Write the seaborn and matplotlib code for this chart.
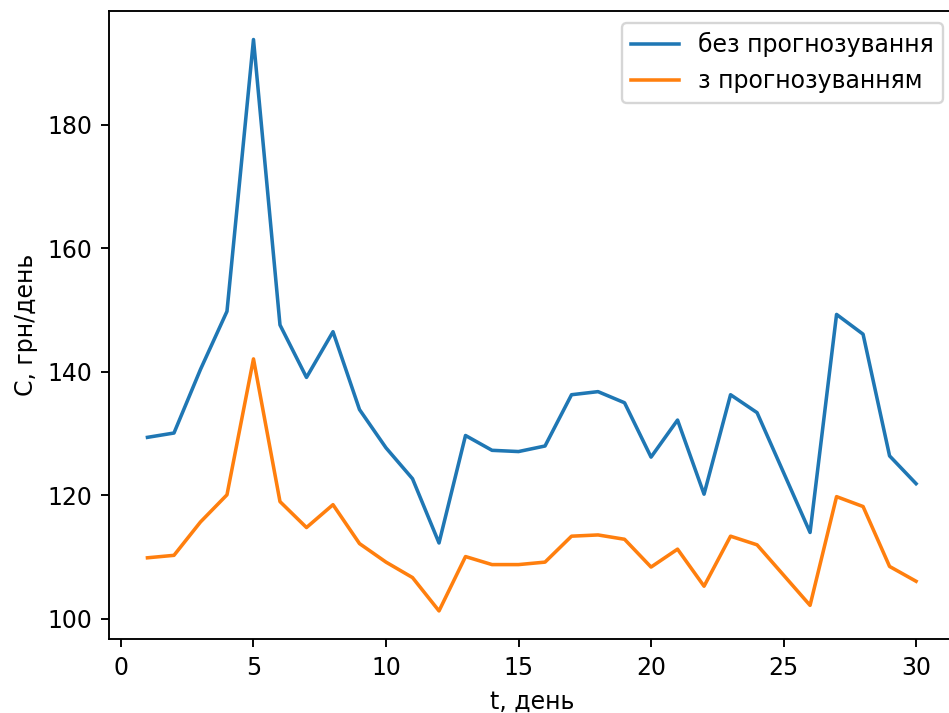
import numpy as np
import pandas as pd
import matplotlib
matplotlib.use("Agg")
import matplotlib.pyplot as plt
import seaborn as sns

days = list(range(1, 31))
cost_plain = [129.4, 130.1, 140.4, 149.8, 193.8, 147.6, 139.1, 146.5, 133.9, 127.7,
              122.7, 112.3, 129.7, 127.3, 127.1, 128.0, 136.3, 136.8, 135.0, 126.2,
              132.2, 120.2, 136.3, 133.4, 123.7, 114.0, 149.3, 146.1, 126.4, 121.9]
cost_forecast = [109.9, 110.3, 115.7, 120.1, 142.1, 119.0, 114.8, 118.5, 112.2, 109.2,
                 106.7, 101.3, 110.1, 108.8, 108.8, 109.2, 113.4, 113.6, 112.9, 108.4,
                 111.3, 105.3, 113.4, 112.0, 107.1, 102.2, 119.8, 118.2, 108.5, 106.1]
labels = ["без прогнозування", "з прогнозуванням"]

df = pd.DataFrame({
    "t": days * 2,
    "C": cost_plain + cost_forecast,
    "series": [labels[0]] * len(days) + [labels[1]] * len(days),
})

plt.rcParams["font.family"] = ["DejaVu Sans"]
dpi = 170
fig = plt.figure(figsize=(949 / dpi, 713 / dpi), dpi=dpi)
# the axes run slightly past the right edge of the canvas
ax = fig.add_axes([0.1149, 0.1031, 0.8909, 0.8815])

sns.lineplot(data=df, x="t", y="C", hue="series", palette=["#1f77b4", "#ff7f0e"],
             ax=ax, linewidth=1.5)
ax.set_xlabel("t, день")
ax.set_ylabel("C, грн/день")
ax.set_xticks([0, 5, 10, 15, 20, 25, 30])
ax.set_yticks([100, 120, 140, 160, 180])
leg = ax.legend(loc="upper right")
leg.set_title(None)

fig.savefig("out.png", dpi=dpi)
